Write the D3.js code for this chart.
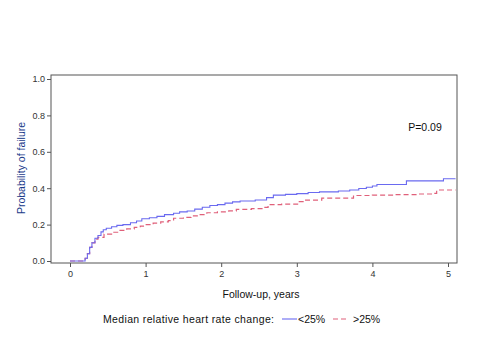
<!DOCTYPE html>
<html><head><meta charset="utf-8">
<script src="https://cdn.jsdelivr.net/npm/d3@7"></script>
<style>body{margin:0;background:#fff}svg{display:block}</style>
</head><body>
<svg id="c" width="480" height="360"></svg>
<script>
const xTicks = [0,1,2,3,4,5];
const yTicks = [0.0,0.2,0.4,0.6,0.8,1.0];
const lowTimes = [0,0.17,0.2,0.23,0.26,0.29,0.33,0.37,0.41,0.44,0.48,0.55,0.62,0.7,0.8,0.88,0.95,1.05,1.15,1.25,1.37,1.45,1.55,1.65,1.75,1.85,1.95,2.05,2.15,2.25,2.45,2.6,2.69,2.85,3.0,3.15,3.3,3.55,3.7,3.82,3.92,4.0,4.06,4.42,4.45,4.88,4.94,5.1];
const lowVals  = [0,0,0.015,0.04,0.075,0.1,0.125,0.14,0.16,0.172,0.18,0.188,0.196,0.2,0.21,0.22,0.232,0.238,0.245,0.255,0.262,0.27,0.275,0.285,0.295,0.305,0.31,0.318,0.325,0.33,0.335,0.348,0.362,0.366,0.37,0.376,0.38,0.385,0.39,0.398,0.405,0.412,0.42,0.42,0.44,0.44,0.452,0.452];
const highTimes = [0,0.17,0.2,0.23,0.26,0.29,0.33,0.37,0.45,0.55,0.65,0.75,0.85,0.93,1.0,1.1,1.2,1.3,1.37,1.5,1.6,1.7,1.81,1.95,2.1,2.2,2.4,2.55,2.62,2.8,3.02,3.1,3.33,3.7,3.75,4.0,4.3,4.6,4.8,4.85,5.1];
const highVals  = [0,0,0.015,0.04,0.075,0.1,0.12,0.13,0.148,0.158,0.168,0.176,0.185,0.192,0.2,0.208,0.215,0.222,0.235,0.24,0.248,0.255,0.265,0.27,0.275,0.284,0.288,0.295,0.31,0.312,0.326,0.335,0.345,0.345,0.36,0.362,0.365,0.368,0.372,0.39,0.39];
const seriesNames = ["<25%", ">25%"];
const pLabel = "P=0.09";

const svg = d3.select("#c");
const x = d3.scaleLinear().domain([0,5]).range([70, 448]);
const y = d3.scaleLinear().domain([0,1]).range([261, 79]);
const fLeft = 51, fRight = 457, fTop = 75, fBottom = 263;
const font = "Liberation Sans, Arial, sans-serif";

svg.append("rect").attr("x", fLeft).attr("y", fTop).attr("width", fRight-fLeft).attr("height", fBottom-fTop)
  .attr("fill", "none").attr("stroke", "#555").attr("stroke-width", 1);

const xa = svg.append("g").attr("transform", `translate(0,${fBottom})`)
  .call(d3.axisBottom(x).tickValues(xTicks).tickFormat(d3.format("d")).tickSize(4).tickPadding(4));
const ya = svg.append("g").attr("transform", `translate(${fLeft},0)`)
  .call(d3.axisLeft(y).tickValues(yTicks).tickFormat(d3.format(".1f")).tickSize(4).tickPadding(2));
[xa, ya].forEach(a => {
  a.select(".domain").remove();
  a.selectAll("line").attr("stroke", "#555");
  a.selectAll("text").attr("font-family", font).attr("font-size", 9).attr("fill", "#333");
});

const line = d3.line().x(d => x(d[0])).y(d => y(d[1])).curve(d3.curveStepAfter);
const low = lowTimes.map((t,i) => [t, lowVals[i]]);
const high = highTimes.map((t,i) => [t, highVals[i]]);
svg.append("path").attr("d", line(high)).attr("fill","none").attr("stroke","#e0607a").attr("stroke-width",1.2).attr("stroke-dasharray","5,3");
svg.append("path").attr("d", line(low)).attr("fill","none").attr("stroke","#6a6af0").attr("stroke-width",1.1);

svg.append("text").attr("x", 425).attr("y", 131).attr("text-anchor","middle")
  .attr("font-family", font).attr("font-size", 10.5).attr("fill","#111").text(pLabel);

svg.append("text").attr("x", 261).attr("y", 298).attr("text-anchor","middle")
  .attr("font-family", font).attr("font-size", 10.5).attr("fill","#111").text("Follow-up, years");

svg.append("text").attr("transform", "translate(25,168) rotate(-90)").attr("text-anchor","middle")
  .attr("font-family", font).attr("font-size", 10.5).attr("fill","#1a3a8a").text("Probability of failure");

const lg = svg.append("g");
lg.append("text").attr("x", 103).attr("y", 323).attr("font-family", font).attr("font-size", 10.5).attr("fill","#111")
  .attr("textLength", 171).attr("lengthAdjust", "spacing")
  .text("Median relative heart rate change:");
lg.append("line").attr("x1", 282).attr("x2", 297).attr("y1", 319).attr("y2", 319).attr("stroke","#6a6af0").attr("stroke-width",1.1);
lg.append("text").attr("x", 298).attr("y", 323).attr("font-family", font).attr("font-size", 10.5).attr("fill","#111").text(seriesNames[0]);
lg.append("line").attr("x1", 333).attr("x2", 349).attr("y1", 319).attr("y2", 319).attr("stroke","#e0607a").attr("stroke-width",1.2).attr("stroke-dasharray","5,3");
lg.append("text").attr("x", 353).attr("y", 323).attr("font-family", font).attr("font-size", 10.5).attr("fill","#111").text(seriesNames[1]);
</script>
</body></html>
